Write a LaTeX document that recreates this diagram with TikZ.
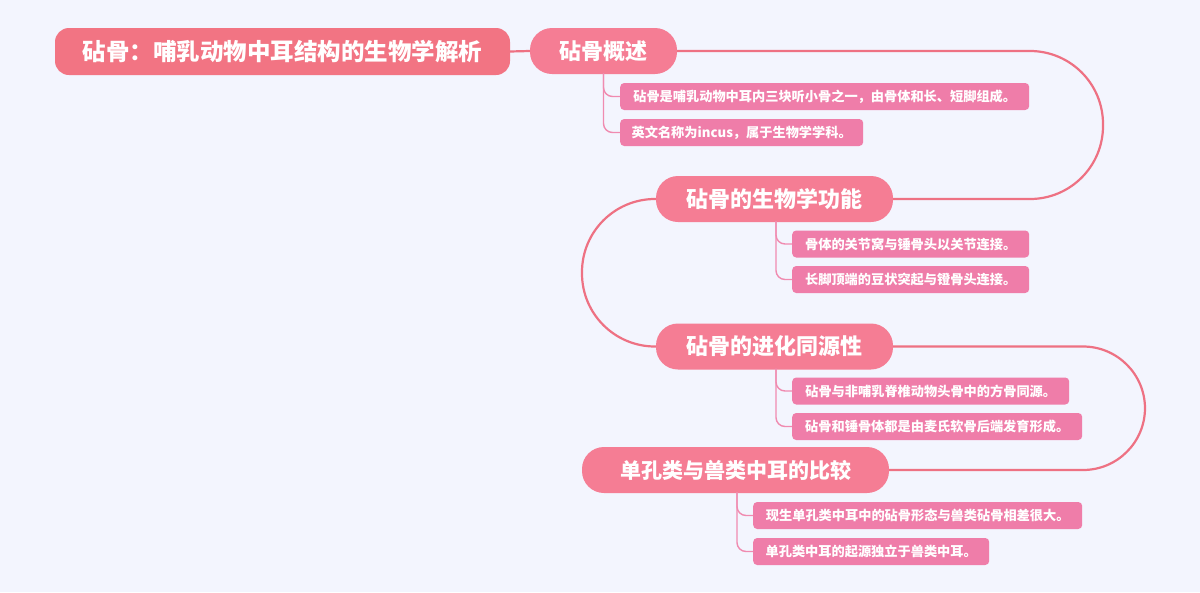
\documentclass[tikz,border=0pt]{standalone}
\usepackage{fontspec}
\newfontfamily\cjk{Noto Sans CJK SC}
\usetikzlibrary{calc}
\definecolor{bg}{HTML}{F3F5FE}
\definecolor{rootc}{HTML}{F27483}
\definecolor{mainc}{HTML}{F57D94}
\definecolor{subc}{HTML}{EF7DA9}
\definecolor{mline}{HTML}{EE7183}
\definecolor{sline}{HTML}{F08BB0}
\tikzset{
  rootbox/.style={fill=rootc, rounded corners=14pt, text=white, inner sep=0pt,
    minimum height=47pt, font=\cjk\bfseries\fontsize{23.5}{26}\selectfont},
  mainbox/.style={fill=mainc, rounded corners=22pt, text=white, inner sep=0pt,
    minimum height=46pt, font=\cjk\bfseries\fontsize{22}{26}\selectfont},
  subbox/.style={fill=subc, rounded corners=4pt, text=white, inner sep=0pt,
    minimum height=27pt, anchor=west, font=\cjk\bfseries\fontsize{13.2}{15}\selectfont},
  mainline/.style={draw=mline, line width=2.2pt},
  subline/.style={draw=sline, line width=1.4pt, rounded corners=9pt},
}
\begin{document}
\begin{tikzpicture}[x=1pt,y=-1pt]
\fill[bg] (0,0) rectangle (1200,592);
\useasboundingbox (0,0) rectangle (1200,592);

\node[rootbox, minimum width=455pt] (root) at (282.5,51.5) {砧骨：哺乳动物中耳结构的生物学解析};
\node[mainbox, minimum width=147pt] (s1) at (603.5,51) {砧骨概述};
\node[mainbox, minimum width=237pt] (s2) at (774.5,199) {砧骨的生物学功能};
\node[mainbox, minimum width=237pt] (s3) at (774.5,346.5) {砧骨的进化同源性};
\node[mainbox, minimum width=307pt, font=\cjk\bfseries\fontsize{21}{26}\selectfont] (s4) at (735.5,470) {单孔类与兽类中耳的比较};

\node[subbox, minimum width=409pt] (b11) at (620,96.5) {砧骨是哺乳动物中耳内三块听小骨之一，由骨体和长、短脚组成。};
\node[subbox, minimum width=243pt] (b12) at (620,132.5) {英文名称为incus，属于生物学学科。};
\node[subbox, minimum width=237pt] (b21) at (792,244) {骨体的关节窝与锤骨头以关节连接。};
\node[subbox, minimum width=237pt] (b22) at (792,279.5) {长脚顶端的豆状突起与镫骨头连接。};
\node[subbox, minimum width=277pt] (b31) at (792,391) {砧骨与非哺乳脊椎动物头骨中的方骨同源。};
\node[subbox, minimum width=290pt] (b32) at (792,426.5) {砧骨和锤骨体都是由麦氏软骨后端发育形成。};
\node[subbox, minimum width=329pt] (b41) at (753,515.5) {现生单孔类中耳中的砧骨形态与兽类砧骨相差很大。};
\node[subbox, minimum width=236pt] (b42) at (753,551.5) {单孔类中耳的起源独立于兽类中耳。};

\draw[mainline] (root.east) -- (s1.west);
\draw[mainline, rounded corners=73pt] (s1.east) -- (1103,51) -- (1103,199) -- (s2.east);
\draw[mainline, rounded corners=73pt] (s2.west) -- (582,199) -- (582,346.5) -- (s3.west);
\draw[mainline, rounded corners=62pt] (s3.east) -- (1145,346.5) -- (1145,470) -- (s4.east);

\draw[subline] ($(s1.south)+(0,-1)$) |- (b11.west);
\draw[subline] ($(s1.south)+(0,-1)$) |- (b12.west);
\draw[subline] ($(s2.south)+(1.5,-1)$) |- (b21.west);
\draw[subline] ($(s2.south)+(1.5,-1)$) |- (b22.west);
\draw[subline] ($(s3.south)+(1.5,-1)$) |- (b31.west);
\draw[subline] ($(s3.south)+(1.5,-1)$) |- (b32.west);
\draw[subline] ($(s4.south)+(1.5,-1)$) |- (b41.west);
\draw[subline] ($(s4.south)+(1.5,-1)$) |- (b42.west);
\end{tikzpicture}
\end{document}
